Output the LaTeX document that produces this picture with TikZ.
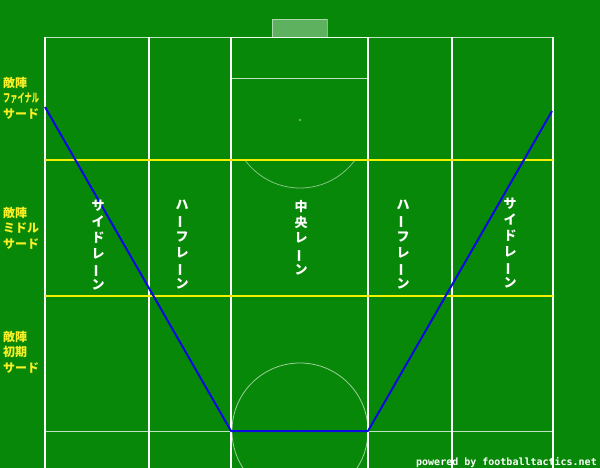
\documentclass[tikz,border=0pt]{standalone}
\usepackage{fontspec}
\usepackage{graphicx}
\newfontfamily\jp{Noto Sans CJK JP}
\newfontfamily\mono{DejaVu Sans Mono}
\definecolor{grass}{RGB}{8,136,8}
\definecolor{yline}{RGB}{245,240,0}
\definecolor{ytext}{RGB}{250,240,40}
\definecolor{bline}{RGB}{10,10,225}
\newcommand{\vbar}{\rotatebox[origin=c]{90}{ー}}
\tikzset{
  pitchline/.style={draw=white, line width=0.8pt, opacity=0.75},
  laneline/.style={draw=white, line width=2pt},
  zoneline/.style={draw=yline, line width=2.2pt},
  lanetext/.style={text=white, font=\jp\bfseries\fontsize{13}{15.8}\selectfont, align=center, inner sep=0pt, anchor=north},
  zonetext/.style={text=ytext, font=\jp\bfseries\fontsize{12}{15.5}\selectfont, align=left, inner sep=0pt, anchor=north west},
  route/.style={draw=bline, line width=2pt, line join=round}
}
\begin{document}
\begin{tikzpicture}[x=1pt,y=-1pt]
\useasboundingbox (0,0) rectangle (600,468);
\fill[grass] (0,0) rectangle (600,468);
% goal
\filldraw[fill=white, fill opacity=0.35, draw=white, draw opacity=0.5, line width=0.8pt] (272,19) rectangle (327,37);
% pitch markings
\draw[pitchline] (45,37) -- (553,37);
\draw[pitchline] (231,37) rectangle (368,78);
\draw[pitchline] (45,431) -- (553,431);
\begin{scope}
\clip (0,160) rectangle (600,468);
\draw[pitchline, opacity=0.5] (300,120) circle[radius=68pt];
\end{scope}
\draw[pitchline, opacity=0.6] (300,431) circle[radius=68pt];
\fill[white, opacity=0.5] (300,120) circle[radius=1.2pt];
\fill[white, opacity=0.5] (300,431) circle[radius=1.2pt];
% lanes
\foreach \lx in {45,149,231,368,452,553} {
  \draw[laneline] (\lx,37) -- (\lx,468);
}
% zone lines
\draw[zoneline] (45,160) -- (553,160);
\draw[zoneline] (45,296) -- (553,296);
% route
\coordinate (r1) at (45,107);
\coordinate (r2) at (231,431);
\coordinate (r3) at (368,431);
\coordinate (r4) at (552,111);
\draw[route] (r1) -- (r2) -- (r3) -- (r4);
% zone labels
\node[zonetext] (z1) at (3,77) {敵陣\\\scalebox{0.6}[1]{ファイナル}\\ サード};
\node[zonetext] (z2) at (3,207) {敵陣\\ ミドル\\ サード};
\node[zonetext] (z3) at (3,331) {敵陣\\初期\\ サード};
% lane labels
\node[lanetext] (l1) at (98,200) {サ\\イ\\ド\\レ\\\vbar\\ン};
\node[lanetext] (l2) at (182,200) {ハ\\\vbar\\フ\\レ\\\vbar\\ン};
\node[lanetext] (l3) at (301,200) {中\\央\\レ\\\vbar\\ン};
\node[lanetext] (l4) at (403,200) {ハ\\\vbar\\フ\\レ\\\vbar\\ン};
\node[lanetext] (l5) at (510,198) {サ\\イ\\ド\\レ\\\vbar\\ン};
% watermark
\node[text=white, font=\mono\bfseries\fontsize{10}{12}\selectfont, anchor=base east, inner sep=0pt] (wm) at (597,465) {powered by footballtactics.net};
\end{tikzpicture}
\end{document}
